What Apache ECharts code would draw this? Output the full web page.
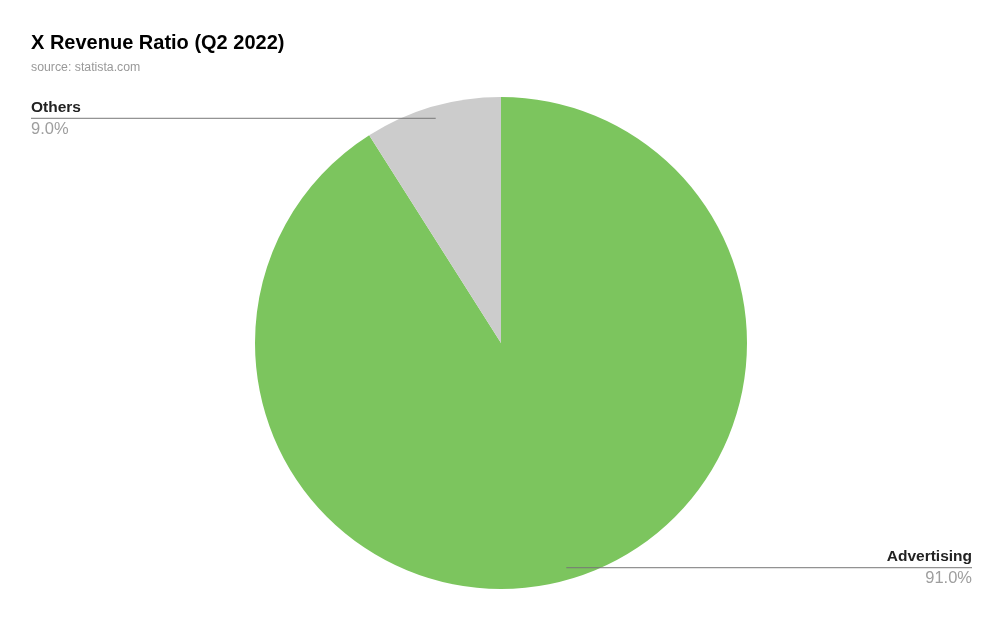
<!DOCTYPE html>
<html>
<head>
<meta charset="utf-8">
<script src="https://cdn.jsdelivr.net/npm/echarts@6/dist/echarts.min.js"></script>
<style>
  html, body { margin: 0; padding: 0; background: #fff; }
  #chart { width: 1003px; height: 621px; }
</style>
</head>
<body>
<div id="chart"></div>
<script>
const categories = ['Advertising', 'Others']
const shares = [91.0, 9.0]
const colors = ['#7cc55e', '#cccccc']
const pieCenter = [501, 343]
const pieRadius = 246

const pieData = categories.map((name, i) => ({
  name: name,
  value: shares[i],
  itemStyle: { color: colors[i] },
}))
// same slices, invisible, only to carry labels + leader lines on top of the pie
const labelData = categories.map((name, i) => ({
  name: name,
  value: shares[i],
  itemStyle: { color: 'rgba(0,0,0,0)' },
}))

const chart = echarts.init(document.getElementById('chart'))
chart.setOption({
  backgroundColor: '#ffffff',
  title: {
    text: 'X Revenue Ratio (Q2 2022)',
    subtext: 'source: statista.com',
    left: 26,
    top: 28,
    itemGap: 9,
    textStyle: {
      fontFamily: 'Liberation Sans',
      fontSize: 20,
      fontWeight: 'bold',
      color: '#000000',
    },
    subtextStyle: {
      fontFamily: 'Liberation Sans',
      fontSize: 12.3,
      color: '#999999',
    },
  },
  series: [
    {
      type: 'pie',
      z: 2,
      center: pieCenter,
      radius: pieRadius,
      startAngle: 90,
      clockwise: true,
      data: pieData,
      label: { show: false },
      labelLine: { show: false },
      emphasis: { disabled: true },
      animation: false,
    },
    {
      type: 'pie',
      z: 3,
      silent: true,
      center: pieCenter,
      radius: pieRadius,
      startAngle: 90,
      clockwise: true,
      data: labelData,
      label: {
        alignTo: 'edge',
        edgeDistance: 31,
        formatter: (p) => '{n|' + p.name + '}\n{p|' + p.percent.toFixed(1) + '%}',
        rich: {
          n: {
            fontFamily: 'Liberation Sans',
            fontSize: 15.5,
            fontWeight: 'bold',
            color: '#222222',
            lineHeight: 22,
          },
          p: {
            fontFamily: 'Liberation Sans',
            fontSize: 16.5,
            color: '#9e9e9e',
            lineHeight: 22,
          },
        },
      },
      labelLine: {
        show: true,
        showAbove: true,
        length: -12,
        length2: 20,
        lineStyle: { color: '#777777', width: 1 },
      },
      // horizontal leader from a point inside the slice, running under the whole label
      labelLayout: function (params) {
        const pts = params.labelLinePoints
        if (!pts) return {}
        const rect = params.labelRect
        const edge = pts[0]
        const y = pts[1][1]
        const ratio = (edge[0] - pieCenter[0]) / (edge[1] - pieCenter[1])
        const startX = edge[0] + (y - edge[1]) * ratio
        const onLeft = edge[0] < pieCenter[0]
        const endX = onLeft ? rect.x : rect.x + rect.width
        return {
          labelLinePoints: [[startX, y], [endX, y]],
        }
      },
      emphasis: { disabled: true },
      animation: false,
    },
  ],
})
</script>
</body>
</html>
